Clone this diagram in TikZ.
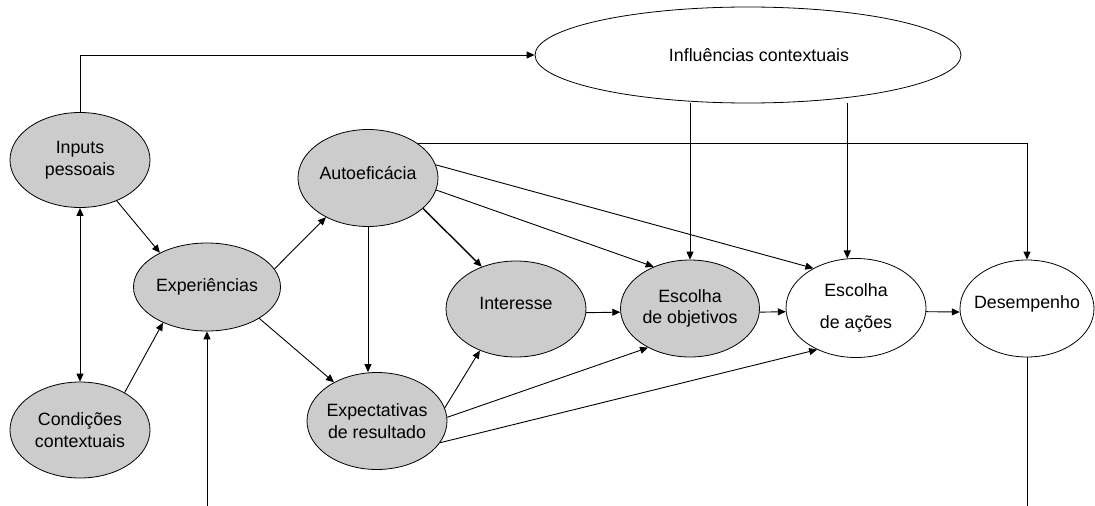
\documentclass[tikz,border=0pt]{standalone}
\usepackage{fontspec}
\setmainfont{Liberation Sans}
\usetikzlibrary{shapes.geometric,arrows.meta,calc}
\definecolor{nodegray}{RGB}{204,204,204}
\begin{document}
\begin{tikzpicture}[x=1pt,y=-1pt,
  every node/.style={font=\fontsize{17.8}{21.5}\selectfont},
  ell/.style={ellipse, draw, line width=0.8pt, inner sep=-10pt, align=center},
  gr/.style={ell, fill=nodegray},
  wh/.style={ell, fill=white},
  tip/.tip={Triangle[length=8pt,width=7pt]},
  arr/.style={-tip, line width=0.9pt},
  arrb/.style={tip-tip, line width=0.9pt},
  ln/.style={line width=0.9pt}]
\useasboundingbox (0,0) rectangle (1095,506);
% nodes
\node[wh, minimum width=426pt, minimum height=96pt] (inf) at (748,55) {\raisebox{-10pt}{\hspace*{22pt}Influências contextuais}};
\node[gr, minimum width=140pt, minimum height=95pt] (inp) at (80,160) {Inputs\\pessoais};
\node[gr, minimum width=140pt, minimum height=96pt] (cond) at (80,430) {Condições\\contextuais};
\node[gr, minimum width=147pt, minimum height=88pt] (exp) at (207,287) {Experiências};
\node[gr, minimum width=140pt, minimum height=97pt] (auto) at (368,178) {\raisebox{10pt}{Autoeficácia}};
\node[gr, minimum width=140pt, minimum height=96pt] (int) at (516,309) {\raisebox{12pt}{Interesse}};
\node[gr, minimum width=140pt, minimum height=97pt] (expe) at (377,421) {Expectativas\\de resultado};
\node[gr, minimum width=139pt, minimum height=97pt] (eobj) at (690,308.5) {Escolha\\de objetivos};
\node[wh, minimum width=140pt, minimum height=99pt] (eac) at (856,308) {\raisebox{-6pt}{\begin{tabular}{@{}c@{}}Escolha\\[11pt]de ações\end{tabular}}};
\node[wh, minimum width=134pt, minimum height=97pt] (des) at (1027,308.5) {\raisebox{13pt}{Desempenho}};
\coordinate (expbot) at (207,506);
\coordinate (desbot) at (1030,506);
% connectors
\draw[arr] (inp.north) |- (inf.west);
\draw[arrb] (inp.south) -- (cond.north);
\draw[arr] (inp.-48) -- (exp.144.5);
\draw[arr] (cond.40) -- (exp.219);
\draw[arr] (expbot) -- (exp.south);
\draw[arr] (exp.15.8) -- (auto.223.7);
\draw[arr] (exp.-31) -- (expe.138.4);
\draw[arr] (auto.south) -- (auto.south |- expe.north);
\draw[arr, line width=1.4pt] (auto.-29.9) -- (int.129);
\draw[arr] (auto.-10.5) -- (eobj.131.9);
\draw[arr] (auto.11.3) -- (eac.137.7);
\draw[arr] (auto.35.8) -| (des.north);
\draw[arr] (eobj.north |- inf.south) -- (eobj.north);
\draw[arr] (eac.100.6 |- inf.south) -- (eac.100.6);
\draw[arr] (expe.11.3) -- (int.229.6);
\draw[arr] (expe.3.2) -- (eobj.223);
\draw[arr] (expe.-19.2) -- (eac.227.2);
\draw[arr] (int.-3.3) -- (eobj.183.3);
\draw[arr] (eobj.-3.3) -- (eac.183.3);
\draw[arr] (eac.-3.3) -- (des.183.3);
\draw[ln] (des.south) -- (des.south |- desbot);
\end{tikzpicture}
\end{document}
